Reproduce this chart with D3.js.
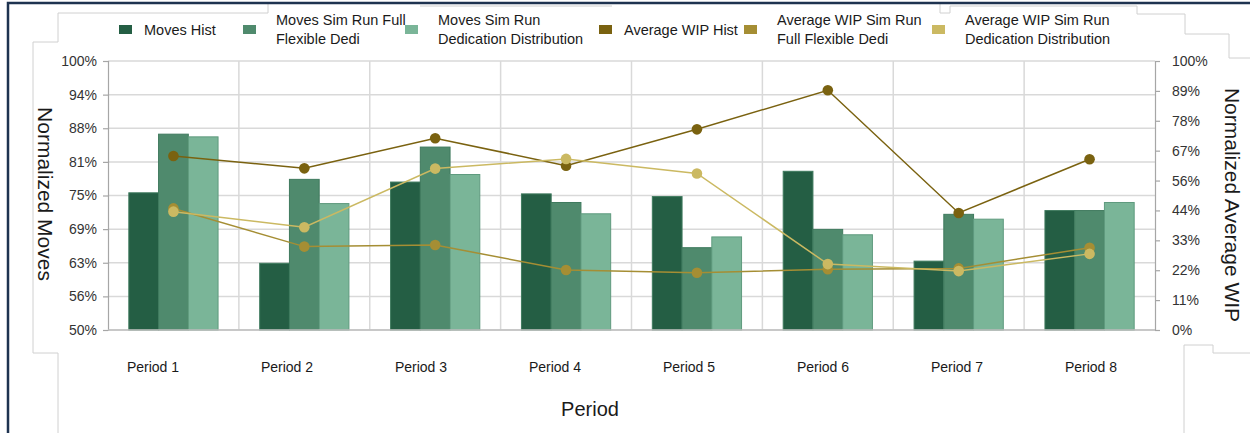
<!DOCTYPE html>
<html>
<head>
<meta charset="utf-8">
<script src="https://cdn.jsdelivr.net/npm/d3@7"></script>
<style>
  body { margin: 0; background: #fff; }
  svg { display: block; font-family: "Liberation Sans", Arial, sans-serif; }
</style>
</head>
<body>
<div id="chart"></div>
<script>
const periods = ["Period 1", "Period 2", "Period 3", "Period 4", "Period 5", "Period 6", "Period 7", "Period 8"]

// normalized moves (left axis)
const movesHist = [0.755, 0.624, 0.775, 0.753, 0.748, 0.795, 0.628, 0.722]
const movesFull = [0.864, 0.780, 0.840, 0.737, 0.653, 0.687, 0.715, 0.722]
const movesDed  = [0.859, 0.735, 0.789, 0.716, 0.673, 0.677, 0.706, 0.737]

// normalized average WIP (right axis)
const wipHist = [0.647, 0.601, 0.713, 0.611, 0.746, 0.891, 0.435, 0.635]
const wipFull = [0.452, 0.310, 0.316, 0.223, 0.213, 0.226, 0.229, 0.306]
const wipDed  = [0.440, 0.382, 0.600, 0.636, 0.582, 0.245, 0.219, 0.283]

const leftTicks = ["100%", "94%", "88%", "81%", "75%", "69%", "63%", "56%", "50%"]
const rightTicks = ["100%", "89%", "78%", "67%", "56%", "44%", "33%", "22%", "11%", "0%"]

const barSeries = [
  {name: ["Moves Hist"], values: movesHist, color: "#245e44", stroke: "#3f7a5e"},
  {name: ["Moves Sim Run Full", "Flexible Dedi"], values: movesFull, color: "#4f8a6d", stroke: "#3f7a5e"},
  {name: ["Moves Sim Run", "Dedication Distribution"], values: movesDed, color: "#7ab598", stroke: "#5f9a7e"}
]
const lineSeries = [
  {name: ["Average WIP Hist"], values: wipHist, color: "#7a6210"},
  {name: ["Average WIP Sim Run", "Full Flexible Dedi"], values: wipFull, color: "#a58e34"},
  {name: ["Average WIP Sim Run", "Dedication Distribution"], values: wipDed, color: "#cbb962"}
]

const width = 1250, height = 433
const margin = {top: 61, right: 95, bottom: 103, left: 108}

const svg = d3.select("#chart").append("svg")
  .attr("width", width).attr("height", height)

// frame artifacts from the screenshot
svg.append("path")
  .attr("fill", "none").attr("stroke", "#d0d0d0").attr("stroke-width", 1)
  .attr("d", "M268,4V13H58V42H33V353H58V433 M420,6H612 M940,4V13H950V6H1137V14H1185V34H1229V58H1250 M1184,433V345H1213V353H1250")
svg.append("path")
  .attr("fill", "none").attr("stroke", "#1e3350").attr("stroke-width", 2.5)
  .attr("d", "M8,433V3H1250")

let x = d3.scaleBand()
  .domain(periods)
  .range([margin.left, width - margin.right])

let xInner = d3.scaleBand()
  .domain(d3.range(barSeries.length))
  .range([0, x.bandwidth()])
  .paddingOuter(0.7)
  .paddingInner(0)

// category labels sit on a slightly wider band in the picture
let xLabel = d3.scaleBand()
  .domain(periods)
  .range([86, 1158])

let yL = d3.scaleLinear()
  .domain([0.5, 1])
  .range([height - margin.bottom, margin.top])

let yR = d3.scaleLinear()
  .domain([0, 1])
  .range([height - margin.bottom, margin.top])

// gridlines
svg.append("g")
  .attr("stroke", "#d9d9d9").attr("stroke-width", 1.5)
  .selectAll("line.h")
  .data(leftTicks.map((d, i) => 1 - i * 0.0625))
  .join("line")
  .attr("x1", margin.left).attr("x2", width - margin.right)
  .attr("y1", d => yL(d)).attr("y2", d => yL(d))

svg.append("g")
  .attr("stroke", "#d9d9d9").attr("stroke-width", 1.5)
  .selectAll("line")
  .data(periods.slice(1))
  .join("line")
  .attr("x1", d => x(d)).attr("x2", d => x(d))
  .attr("y1", margin.top).attr("y2", height - margin.bottom)

// axes
let yAxisL = d3.axisLeft(yL)
  .tickValues(leftTicks.map((d, i) => 1 - i * 0.0625))
  .tickFormat((d, i) => leftTicks[i])
  .tickSize(5).tickPadding(6)

let yAxisR = d3.axisRight(yR)
  .tickValues(rightTicks.map((d, i) => 1 - i / 9))
  .tickFormat((d, i) => rightTicks[i])
  .tickSize(5).tickPadding(12)

svg.append("g")
  .attr("transform", `translate(${margin.left},0)`)
  .call(yAxisL)
  .call(g => g.selectAll("path, line").attr("stroke", "#a6a6a6").attr("stroke-width", 1.2))
  .call(g => g.selectAll("text").attr("font-size", 14).attr("fill", "#333"))

svg.append("g")
  .attr("transform", `translate(${width - margin.right},0)`)
  .call(yAxisR)
  .call(g => g.selectAll("path, line").attr("stroke", "#a6a6a6").attr("stroke-width", 1.2))
  .call(g => g.selectAll("text").attr("font-size", 14).attr("fill", "#333"))

// bars
svg.append("g")
  .selectAll("g")
  .data(barSeries)
  .join("g")
  .attr("fill", d => d.color)
  .attr("stroke", d => d.stroke)
  .selectAll("rect")
  .data((s, si) => s.values.map((v, i) => ({v, p: periods[i], si})))
  .join("rect")
  .attr("x", d => x(d.p) + xInner(d.si))
  .attr("width", xInner.bandwidth())
  .attr("y", d => yL(d.v))
  .attr("height", d => yL(0.5) - yL(d.v))

// bottom axis line
svg.append("line")
  .attr("x1", margin.left).attr("x2", width - margin.right)
  .attr("y1", yL(0.5)).attr("y2", yL(0.5))
  .attr("stroke", "#bfbfbf").attr("stroke-width", 1.5)

// category labels
svg.append("g")
  .selectAll("text")
  .data(periods)
  .join("text")
  .attr("x", d => xLabel(d) + xLabel.bandwidth() / 2)
  .attr("y", 372)
  .attr("text-anchor", "middle")
  .attr("font-size", 14).attr("fill", "#1a1a1a")
  .text(d => d)

// lines with markers
let line = d3.line()
  .x((d, i) => x(periods[i]) + x.bandwidth() / 2)
  .y(d => yR(d))

let lg = svg.append("g")
  .selectAll("g")
  .data(lineSeries)
  .join("g")

lg.append("path")
  .attr("fill", "none")
  .attr("stroke", d => d.color)
  .attr("stroke-width", 1.5)
  .attr("d", d => line(d.values))

lg.selectAll("circle")
  .data(d => d.values.map((v, i) => ({v, i, c: d.color})))
  .join("circle")
  .attr("cx", d => x(periods[d.i]) + x.bandwidth() / 2)
  .attr("cy", d => yR(d.v))
  .attr("r", 5.3)
  .attr("fill", d => d.c)

// axis titles
svg.append("text")
  .attr("transform", "translate(38,194) rotate(90)")
  .attr("text-anchor", "middle")
  .attr("font-size", 21).attr("fill", "#1a1a1a")
  .text("Normalized Moves")

svg.append("text")
  .attr("transform", "translate(1225,205) rotate(90)")
  .attr("text-anchor", "middle")
  .attr("font-size", 21).attr("fill", "#1a1a1a")
  .text("Normalized Average WIP")

svg.append("text")
  .attr("x", 590).attr("y", 416)
  .attr("text-anchor", "middle")
  .attr("font-size", 20).attr("fill", "#1a1a1a")
  .text("Period")

// legend
const legendX = [119, 243, 405, 599, 744, 932]
const legendItems = barSeries.concat(lineSeries)

let leg = svg.append("g")
  .selectAll("g")
  .data(legendItems)
  .join("g")
  .attr("transform", (d, i) => `translate(${legendX[i]},25)`)

leg.append("rect")
  .attr("width", 13).attr("height", 9)
  .attr("fill", d => d.color)

leg.append("text")
  .attr("x", (d, i) => i === 0 || i === 3 ? 25 : 33)
  .attr("font-size", 14.5).attr("fill", "#1a1a1a")
  .selectAll("tspan")
  .data(d => d.name.map((t, j) => ({t, j, n: d.name.length})))
  .join("tspan")
  .attr("x", function() { return d3.select(this.parentNode).attr("x") })
  .attr("y", d => d.n === 1 ? 10 : (d.j === 0 ? 0 : 19))
  .text(d => d.t)
</script>
</body>
</html>
